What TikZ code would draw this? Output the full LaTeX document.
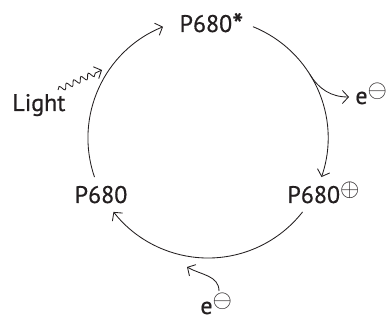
\documentclass[tikz,border=0pt]{standalone}
\usepackage{fontspec}
\setmainfont{PT Sans}[FakeBold=0.6]
\usetikzlibrary{arrows.meta,decorations.pathmorphing}
\definecolor{ink}{RGB}{35,31,32}
\newcommand{\bigsup}[1]{\raisebox{6.5pt}{\fontsize{26}{26}\selectfont$#1$}}
\begin{document}
\begin{tikzpicture}[x=1pt,y=1pt,
  line width=0.85pt, draw=ink,
  tip/.style={-{Straight Barb[length=6pt,width=13pt]}},
  lbl/.style={inner sep=0pt, font=\fontsize{24}{27}\selectfont, text=ink},
  wave/.style={decorate, decoration={snake, amplitude=2.8pt, segment length=8pt, post length=6pt}}]
\useasboundingbox (0,0) rectangle (389,321);
% labels
\node[lbl, anchor=base] (star) at (211.5,289) {P680\raisebox{-4pt}{\fontsize{32}{32}\selectfont*}};
\node[lbl, anchor=base] (p) at (101,118) {P680};
\node[lbl, anchor=base west] (pp) at (287,118) {P680\bigsup{\oplus}};
\node[lbl, anchor=base west] (light) at (12,210) {Light};
\node[lbl, anchor=base west] (eout) at (355,217) {e\bigsup{\ominus}};
\node[lbl, anchor=base west] (ein) at (200,7) {e\bigsup{\ominus}};
% points on the cycle (centre (208,183), radius 120)
\coordinate (a1s) at (94.5,143.9);
\coordinate (a2s) at (253.0,294.3);
\coordinate (a3s) at (302.6,109.1);
\coordinate (br) at (309.8,246.6);
\coordinate (eouttip) at (349,224);
\coordinate (eintail) at (219,30);
\coordinate (eintip) at (187,54);
\coordinate (wstart) at (58,231);
\coordinate (wtip) at (102,251);
% cycle arcs
\draw[tip] (a1s) arc[start angle=199, end angle=112, radius=120pt];
\draw[tip] (a2s) arc[start angle=68, end angle=-19, radius=120pt];
\draw[tip] (a3s) arc[start angle=-38, end angle=-142, radius=120pt];
% electrons
\draw[tip] (br) to[out=-58, in=180] (eouttip);
\draw[tip] (eintail) to[out=90, in=-30] (eintip);
% light
\draw[tip, wave] (wstart) -- (wtip);
\end{tikzpicture}
\end{document}
